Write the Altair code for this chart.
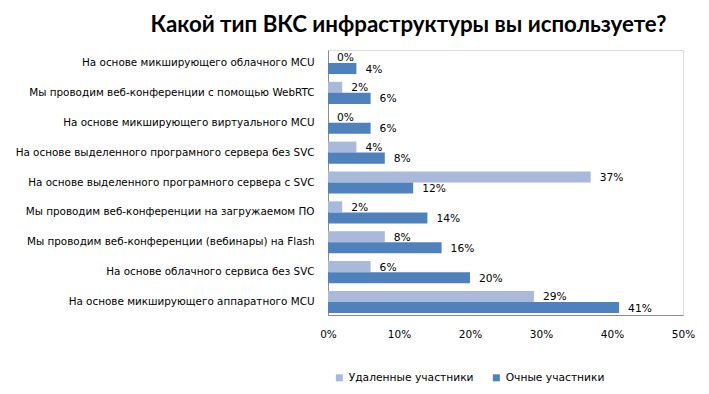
import altair as alt
import pandas as pd

categories = [
    "На основе микширующего облачного MCU",
    "Мы проводим веб-конференции  с помощью WebRTC",
    "На основе микширующего виртуального MCU",
    "На основе выделенного програмного сервера без SVC",
    "На основе выделенного програмного сервера с SVC",
    "Мы проводим веб-конференции  на загружаемом ПО",
    "Мы проводим веб-конференции  (вебинары) на Flash",
    "На основе облачного сервиса без SVC",
    "На основе микширующего аппаратного MCU",
]
remote = [0, 2, 0, 4, 37, 2, 8, 6, 29]
onsite = [4, 6, 6, 8, 12, 14, 16, 20, 41]
series = ["Удаленные участники", "Очные участники"]
colors = ["#A8B9D9", "#4F81BD"]

rows = []
for c, r, o in zip(categories, remote, onsite):
    rows.append({"cat": c, "series": series[0], "v": r / 100, "lbl": f"{r}%"})
    rows.append({"cat": c, "series": series[1], "v": o / 100, "lbl": f"{o}%"})
df = pd.DataFrame(rows)

FONT = "DejaVu Sans"

y = alt.Y("cat:N", sort=categories, title=None,
          scale=alt.Scale(paddingInner=0.26, paddingOuter=0.065),
          axis=alt.Axis(labelFont=FONT, labelFontSize=10.4, labelColor="#000000",
                        ticks=False, labelPadding=14, domainColor="#8C8C8C",
                        labelLimit=400))
yoff = alt.YOffset("series:N", sort=series)
x = alt.X("v:Q", title=None,
          scale=alt.Scale(domain=[0, 0.5]),
          axis=alt.Axis(format=".0%", values=[0, 0.1, 0.2, 0.3, 0.4, 0.5], grid=False,
                        ticks=False, labelPadding=14, domainColor="#8C8C8C",
                        labelFlush=False,
                        labelFont=FONT, labelFontSize=10.5, labelColor="#000000"))

bars = alt.Chart(df).mark_bar().encode(
    y=y, yOffset=yoff, x=x,
    color=alt.Color("series:N", sort=series,
                    scale=alt.Scale(domain=series, range=colors),
                    legend=alt.Legend(title=None, orient="none", direction="horizontal",
                                      legendX=6, legendY=322, symbolType="square",
                                      symbolSize=49, symbolStrokeWidth=0,
                                      labelFont=FONT, labelFontSize=10.7,
                                      labelColor="#000000", columnPadding=17)),
)
text = alt.Chart(df).mark_text(align="left", baseline="middle", dx=9, dy=1,
                               font=FONT, fontSize=10.7, color="#000000").encode(
    y=y, yOffset=yoff, x="v:Q", text="lbl:N")

chart = (bars + text).properties(
    width=355, height=265,
    title=alt.Title("Какой тип ВКС инфраструктуры вы используете?",
                    font="Lato", fontSize=22.3, fontWeight="bold", color="#000000",
                    anchor="middle", dx=-97, offset=14),
    autosize=alt.AutoSizeParams(type="none"),
    padding={"left": 320, "top": 42, "right": 18, "bottom": 71},
).configure_view(stroke=None).configure(background="white")

chart.save("out.html", embed_options={"renderer": "svg", "actions": False})
